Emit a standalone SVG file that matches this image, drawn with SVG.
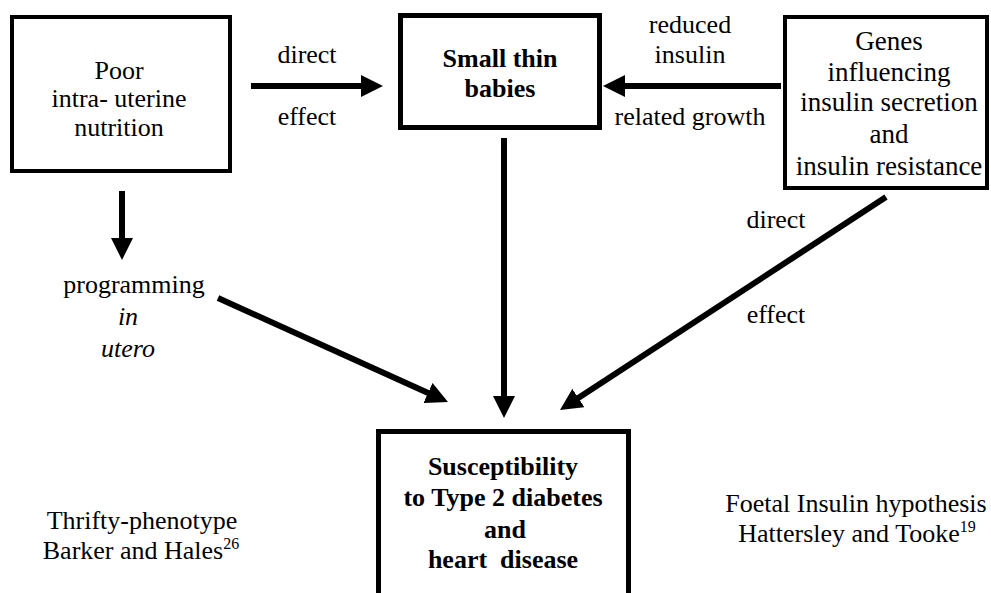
<svg xmlns="http://www.w3.org/2000/svg" width="991" height="593" viewBox="0 0 991 593">
<style>
text{font-family:"Liberation Serif","Tinos","DejaVu Serif","Times New Roman",Times,serif;font-size:26px;fill:#000;text-anchor:middle}
.b{font-weight:bold}
.i{font-style:italic}
.g{font-size:27px}
.box{fill:#fff;stroke:#000}
.arr{stroke:#000;stroke-width:6;fill:none;marker-end:url(#ah)}
.sup{font-size:16px}
</style>
<defs>
<marker id="ah" markerUnits="userSpaceOnUse" markerWidth="22" markerHeight="22" viewBox="0 0 22 22" refX="2" refY="11" orient="auto">
<path d="M0,0 L22,11 L0,22 z" fill="#000"/>
</marker>
</defs>
<rect width="991" height="593" fill="#fff"/>
<g id="connectors">
<line class="arr" x1="251" y1="86" x2="363" y2="86"/>
<line class="arr" x1="781" y1="86" x2="623" y2="86"/>
<line class="arr" x1="122" y1="191" x2="122" y2="240"/>
<line class="arr" x1="504" y1="138" x2="504" y2="398"/>
<line class="arr" x1="218" y1="298" x2="429.8" y2="393.8"/>
<line class="arr" x1="886" y1="197" x2="576.7" y2="399.1"/>
</g>
<g id="labels">
<text x="307" y="63">direct</text>
<text x="307" y="125">effect</text>
<text x="690" y="33">reduced</text>
<text x="690" y="63">insulin</text>
<text x="690" y="125">related growth</text>
<text x="134" y="293">programming</text>
<text class="i" x="128" y="325">in</text>
<text class="i" x="128" y="357">utero</text>
<text x="776" y="228">direct</text>
<text x="776" y="323">effect</text>
<text x="142" y="529">Thrifty-phenotype</text>
<text x="141" y="559">Barker and Hales<tspan class="sup" dy="-10">26</tspan></text>
<text x="856" y="512">Foetal Insulin hypothesis</text>
<text x="857" y="542">Hattersley and Tooke<tspan class="sup" dy="-10">19</tspan></text>
</g>
<g id="poor-nutrition">
<rect class="box" x="12" y="17" width="218" height="154" stroke-width="4"/>
<text x="119" y="79">Poor</text>
<text x="119" y="107">intra- uterine</text>
<text x="119" y="136">nutrition</text>
</g>
<g id="small-thin-babies">
<rect class="box" x="400.5" y="15.5" width="199" height="112" stroke-width="5"/>
<text class="b" x="500" y="67">Small thin</text>
<text class="b" x="500" y="97">babies</text>
</g>
<g id="genes">
<rect class="box" x="785" y="17" width="202" height="171" stroke-width="4"/>
<text class="g" x="889" y="50">Genes</text>
<text class="g" x="889" y="81">influencing</text>
<text class="g" x="889" y="111">insulin secretion</text>
<text class="g" x="889" y="143">and</text>
<text class="g" x="889" y="175">insulin resistance</text>
</g>
<g id="susceptibility">
<rect class="box" x="378.5" y="431.5" width="250" height="200" stroke-width="5"/>
<text class="b" x="503" y="475">Susceptibility</text>
<text class="b" x="503" y="506">to Type 2 diabetes</text>
<text class="b" x="505" y="538">and</text>
<text class="b" x="503" y="568" xml:space="preserve">heart  disease</text>
</g>
</svg>
